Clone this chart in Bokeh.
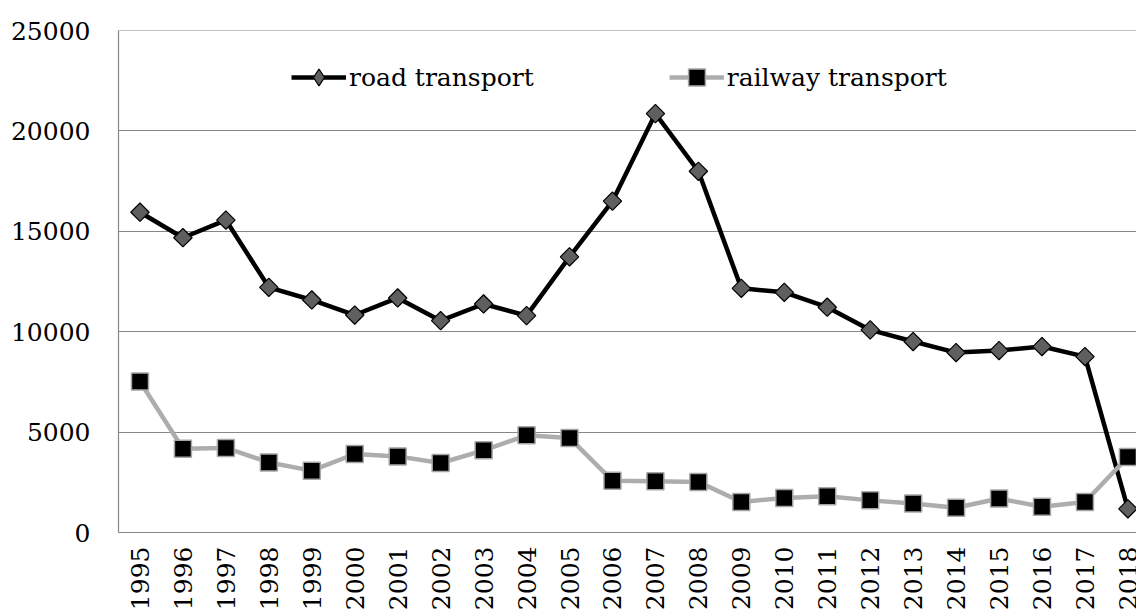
import math
from bokeh.plotting import figure
from bokeh.models import Range1d, FixedTicker, Legend, LegendItem, Span
from bokeh.embed import file_html
from bokeh.resources import INLINE

years = list(range(1995, 2019))
road_transport = [15950, 14680, 15560, 12210, 11580, 10830, 11680, 10550, 11380, 10800,
                  13730, 16500, 20860, 17990, 12160, 11960, 11220, 10090, 9510, 8960,
                  9060, 9260, 8760, 1180]
railway_transport = [7520, 4170, 4210, 3490, 3080, 3910, 3790, 3460, 4090, 4840,
                     4710, 2580, 2550, 2520, 1520, 1720, 1800, 1600, 1440, 1230,
                     1690, 1280, 1520, 3760]
y_ticks = [0, 5000, 10000, 15000, 20000, 25000]

FONT = "DejaVu Serif"
FS = "25px"
GRID = "#878787"

p = figure(width=1136, height=613, output_backend="svg", toolbar_location=None,
           x_range=Range1d(1994.5, 2018.2), y_range=Range1d(0, 25000),
           min_border_left=118, min_border_right=0, min_border_top=30, min_border_bottom=80)
p.outline_line_color = None
p.background_fill_color = "white"
p.border_fill_color = "white"

p.xgrid.grid_line_color = None
p.ygrid.grid_line_color = GRID
p.ygrid.grid_line_width = 1.2
p.ygrid.ticker = FixedTicker(ticks=y_ticks)
p.add_layout(Span(location=y_ticks[-1], dimension="width", line_color=GRID, line_width=1.2))

p.yaxis.ticker = FixedTicker(ticks=y_ticks)
p.xaxis.ticker = FixedTicker(ticks=years)
for ax in (p.xaxis, p.yaxis):
    ax.axis_line_color = GRID
    ax.axis_line_width = 1.2
    ax.major_tick_line_color = None
    ax.minor_tick_line_color = None
    ax.major_tick_out = 0
    ax.major_tick_in = 0
    ax.major_label_text_font = FONT
    ax.major_label_text_font_size = FS
    ax.major_label_text_color = "black"
p.yaxis.major_label_standoff = 28
p.xaxis.major_label_standoff = 14
p.xaxis.major_label_orientation = math.pi / 2

r_line = p.line(years, road_transport, line_color="black", line_width=4.5)
r_mark = p.scatter(years, road_transport, marker="square", size=13, angle=math.pi / 4,
                   fill_color="#5f5f5f", line_color="black", line_width=1.2)
w_line = p.line(years, railway_transport, line_color="#ADADAD", line_width=4.5)
w_mark = p.scatter(years, railway_transport, marker="square", size=17,
                   fill_color="black", line_color="#A6A6A6", line_width=1.5)
r_leg = p.scatter(years[:1], road_transport[:1], marker="diamond", size=17,
                  fill_color="#5f5f5f", line_color="black", line_width=1.2, visible=False)

legend = Legend(items=[LegendItem(label="road transport", renderers=[r_line, r_leg]),
                       LegendItem(label="railway transport", renderers=[w_line, w_mark])],
                orientation="horizontal", location=(173, 434),
                label_text_font=FONT, label_text_font_size=FS, label_text_color="black",
                glyph_width=55, glyph_height=42, label_standoff=3, spacing=135,
                padding=0, margin=0, border_line_color=None, background_fill_alpha=0)
p.add_layout(legend, "center")

open("out.html", "w").write(file_html(p, INLINE))
